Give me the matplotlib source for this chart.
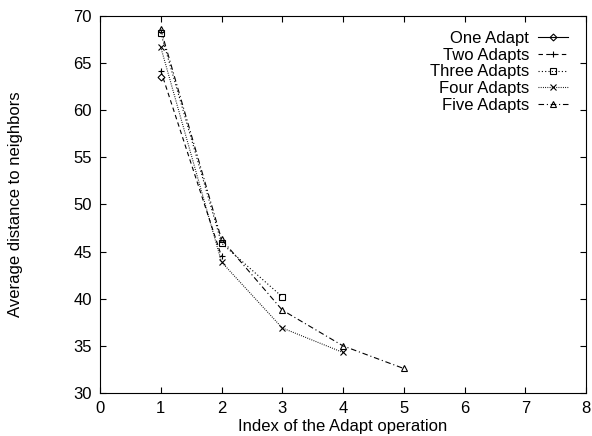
import matplotlib
matplotlib.use("Agg")
import matplotlib.pyplot as plt

# values
series_names = ["One Adapt", "Two Adapts", "Three Adapts", "Four Adapts", "Five Adapts"]
one_adapt = [63.5]
two_adapts = [64.2, 44.5]
three_adapts = [68.2, 45.9, 40.2]
four_adapts = [66.7, 43.9, 36.9, 34.3]
five_adapts = [68.6, 46.3, 38.8, 35.0, 32.6]
x_ticks = [0, 1, 2, 3, 4, 5, 6, 7, 8]
y_ticks = [30, 35, 40, 45, 50, 55, 60, 65, 70]

plt.rcParams["font.family"] = ["Liberation Sans", "DejaVu Sans"]
plt.rcParams["font.size"] = 12

fig = plt.figure(figsize=(5.92, 4.36), dpi=100)
ax = fig.add_axes([100 / 592, 1 - 393 / 436, 486 / 592, 377 / 436])

styles = [
    dict(linestyle="-", marker="D", markersize=3.5),
    dict(linestyle=(0, (4, 3)), marker="+", markersize=5),
    dict(linestyle=(0, (1, 2)), marker="s", markersize=4.5),
    dict(linestyle=(0, (0.8, 1.2)), marker="x", markersize=5),
    dict(linestyle=(0, (5, 2.5, 1, 2.5)), marker="^", markersize=5),
]

for name, ys, st in zip(series_names,
                        [one_adapt, two_adapts, three_adapts, four_adapts, five_adapts],
                        styles):
    xs = list(range(1, len(ys) + 1))
    ax.plot(xs, ys, color="black", linewidth=0.8, markerfacecolor="none",
            markeredgewidth=0.8, label=name, **st)

ax.set_xlim(0, 8)
ax.set_ylim(30, 70)
ax.set_xticks(x_ticks)
ax.set_yticks(y_ticks)
ax.tick_params(direction="in", length=4, width=0.8, top=True, right=True, pad=6)
for sp in ax.spines.values():
    sp.set_linewidth(0.8)

ax.set_xlabel("Index of the Adapt operation", labelpad=2)
ax.set_ylabel("Average distance to neighbors", labelpad=36)

ax.legend(loc="upper right", bbox_to_anchor=(0.962, 0.96), frameon=False,
          markerfirst=False, handlelength=1.8, handletextpad=0.5,
          labelspacing=0.1, borderpad=0, borderaxespad=0)

fig.savefig("out.png", dpi=100)
